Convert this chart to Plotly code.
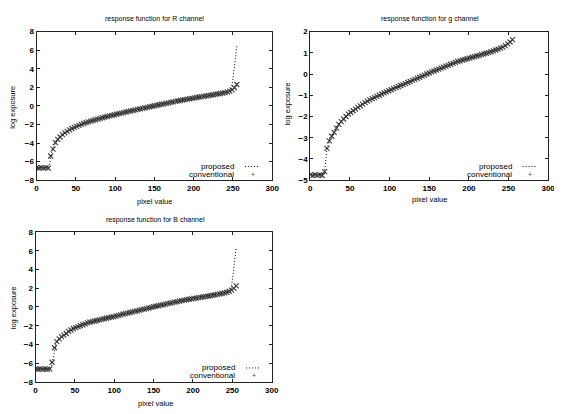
import plotly.graph_objects as go

# ---------------- data ----------------
pixel = [0, 3, 6, 9, 12, 15, 18, 21, 24, 27, 30, 33, 36, 39, 42, 45, 48, 51, 54, 57,
         60, 63, 66, 69, 72, 75, 78, 81, 84, 87, 90, 93, 96, 99, 102, 105, 108, 111, 114, 117,
         120, 123, 126, 129, 132, 135, 138, 141, 144, 147, 150, 153, 156, 159, 162, 165, 168, 171, 174, 177,
         180, 183, 186, 189, 192, 195, 198, 201, 204, 207, 210, 213, 216, 219, 222, 225, 228, 231, 234, 237,
         240, 243, 246, 249, 252, 255]

r_conventional = [-6.65, -6.7, -6.65, -6.7, -6.65, -6.7, -5.4, -4.65, -3.95, -3.6, -3.35, -3.1, -2.9, -2.74, -2.58, -2.44, -2.32, -2.21, -2.1, -2.0,
                  -1.9, -1.81, -1.72, -1.64, -1.56, -1.49, -1.42, -1.35, -1.28, -1.21, -1.14, -1.08, -1.02, -0.96, -0.9, -0.84, -0.78, -0.72, -0.66, -0.6,
                  -0.55, -0.49, -0.43, -0.38, -0.32, -0.27, -0.21, -0.16, -0.1, -0.05, 0.01, 0.06, 0.12, 0.17, 0.22, 0.27, 0.33, 0.38, 0.43, 0.48,
                  0.53, 0.58, 0.63, 0.68, 0.72, 0.77, 0.81, 0.86, 0.9, 0.95, 0.99, 1.03, 1.08, 1.12, 1.16, 1.2, 1.25, 1.29, 1.33, 1.38,
                  1.43, 1.5, 1.58, 1.72, 1.95, 2.3]

g_conventional = [-4.75, -4.78, -4.74, -4.77, -4.75, -4.78, -4.6, -3.5, -3.15, -2.93, -2.75, -2.55, -2.37, -2.24, -2.12, -2.0, -1.89, -1.81, -1.73, -1.65,
                  -1.57, -1.5, -1.42, -1.35, -1.28, -1.22, -1.16, -1.11, -1.05, -1.0, -0.94, -0.89, -0.84, -0.79, -0.74, -0.69, -0.64, -0.59, -0.54, -0.5,
                  -0.45, -0.4, -0.35, -0.3, -0.25, -0.2, -0.15, -0.1, -0.05, 0.0, 0.05, 0.1, 0.14, 0.19, 0.23, 0.28, 0.32, 0.37, 0.41, 0.46,
                  0.5, 0.55, 0.59, 0.62, 0.66, 0.69, 0.72, 0.75, 0.79, 0.82, 0.85, 0.88, 0.92, 0.95, 0.98, 1.01, 1.05, 1.09, 1.13, 1.17,
                  1.22, 1.27, 1.34, 1.42, 1.51, 1.62]

b_conventional = [-6.6, -6.65, -6.6, -6.65, -6.6, -6.65, -6.6, -5.9, -4.35, -3.7, -3.4, -3.17, -3.0, -2.83, -2.6, -2.46, -2.3, -2.2, -2.1, -2.0,
                  -1.9, -1.81, -1.7, -1.62, -1.56, -1.5, -1.44, -1.38, -1.32, -1.26, -1.2, -1.14, -1.09, -1.04, -0.97, -0.9, -0.84, -0.77, -0.71, -0.65,
                  -0.59, -0.53, -0.47, -0.41, -0.35, -0.29, -0.23, -0.17, -0.11, -0.05, 0.02, 0.08, 0.13, 0.19, 0.24, 0.3, 0.35, 0.41, 0.46, 0.52,
                  0.57, 0.63, 0.68, 0.73, 0.77, 0.82, 0.86, 0.91, 0.95, 0.99, 1.03, 1.08, 1.12, 1.16, 1.2, 1.25, 1.29, 1.34, 1.39, 1.44,
                  1.5, 1.57, 1.68, 1.8, 1.98, 2.25]

r_prop_pixel = [0, 6, 12, 16, 17, 18, 19, 20, 22, 24,
                30, 36, 42, 48, 54, 60, 66, 72, 78, 84, 90, 96, 102, 108, 114, 120, 126, 132, 138, 144,
                150, 156, 162, 168, 174, 180, 186, 192, 198, 204, 210, 216, 222, 228, 234, 240,
                244, 246, 247, 248, 249, 250, 251, 252, 253, 254, 255]
r_proposed = [-6.65, -6.65, -6.65, -6.6, -6.0, -5.4, -5.05, -4.85, -4.45, -3.95,
              -3.35, -2.9, -2.58, -2.32, -2.1, -1.9, -1.72, -1.56, -1.42, -1.28, -1.14, -1.02, -0.9, -0.78, -0.66, -0.55, -0.43, -0.32, -0.21, -0.1,
              0.01, 0.12, 0.22, 0.33, 0.43, 0.53, 0.63, 0.72, 0.81, 0.9, 0.99, 1.08, 1.16, 1.25, 1.33, 1.43,
              1.52, 1.6, 1.7, 1.9, 2.3, 2.9, 3.6, 4.3, 5.0, 5.7, 6.4]

g_prop_pixel = [0, 6, 12, 17, 18, 19, 20, 21, 23, 25,
                30, 36, 42, 48, 54, 60, 66, 72, 78, 84, 90, 96, 102, 108, 114, 120, 126, 132, 138, 144,
                150, 156, 162, 168, 174, 180, 186, 192, 198, 204, 210, 216, 222, 228, 234, 240,
                244, 246, 248, 250, 252, 254, 255]
g_proposed = [-4.75, -4.75, -4.75, -4.72, -4.6, -4.2, -3.8, -3.5, -3.3, -3.05,
              -2.75, -2.37, -2.12, -1.89, -1.73, -1.57, -1.42, -1.28, -1.16, -1.05, -0.94, -0.84, -0.74, -0.64, -0.54, -0.45, -0.35, -0.25, -0.15, -0.05,
              0.05, 0.14, 0.23, 0.32, 0.41, 0.5, 0.59, 0.66, 0.72, 0.79, 0.85, 0.92, 0.98, 1.05, 1.13, 1.22,
              1.29, 1.34, 1.39, 1.45, 1.51, 1.58, 1.62]

b_prop_pixel = [0, 6, 12, 18, 20, 21, 22, 23, 24, 26,
                30, 36, 42, 48, 54, 60, 66, 72, 78, 84, 90, 96, 102, 108, 114, 120, 126, 132, 138, 144,
                150, 156, 162, 168, 174, 180, 186, 192, 198, 204, 210, 216, 222, 228, 234, 240,
                244, 246, 248, 249, 250, 251, 252, 253, 254, 255]
b_proposed = [-6.6, -6.6, -6.6, -6.6, -6.5, -6.0, -5.4, -4.9, -4.35, -3.83,
              -3.4, -3.0, -2.6, -2.3, -2.1, -1.9, -1.7, -1.56, -1.44, -1.32, -1.2, -1.09, -0.97, -0.84, -0.71, -0.59, -0.47, -0.35, -0.23, -0.11,
              0.02, 0.13, 0.24, 0.35, 0.46, 0.57, 0.68, 0.77, 0.86, 0.95, 1.03, 1.12, 1.2, 1.29, 1.39, 1.5,
              1.6, 1.68, 1.8, 2.2, 2.9, 3.6, 4.3, 5.1, 5.8, 6.4]

titles = ["response function for R channel", "response function for g channel", "response function for B channel"]
legend_labels = ["proposed", "conventional"]
x_label = "pixel value"
y_label = "log exposure"

# ---------------- figure ----------------
OFF = 8                      # page body margin of the html page
W, H = 562 - OFF, 414 - OFF  # figure size so the page fits the window
INK = "#000000"
FONT = "Liberation Sans, Arial, sans-serif"

def px(x):
    return (x - OFF) / W

def py(y):
    return 1 - (y - OFF) / H

panels = [
    dict(conv=r_conventional, ppx=r_prop_pixel, prop=r_proposed, xdom=[px(35), px(274.5)], ydom=[py(180), py(28)],
         yr=[-8, 8], dt=2),
    dict(conv=g_conventional, ppx=g_prop_pixel, prop=g_proposed, xdom=[px(313.3), px(555)], ydom=[py(180), py(28)],
         yr=[-5, 2], dt=1),
    dict(conv=b_conventional, ppx=b_prop_pixel, prop=b_proposed, xdom=[px(34), px(274)], ydom=[py(386.3), py(233)],
         yr=[-8, 8], dt=2),
]

fig = go.Figure()
layout = dict(
    width=W, height=H, margin=dict(l=0, r=0, t=0, b=0),
    paper_bgcolor="white", plot_bgcolor="white", showlegend=False,
    font=dict(family=FONT, size=8, color=INK),
)

for i, p in enumerate(panels):
    n = "" if i == 0 else str(i + 1)
    xa, ya = "x" + n, "y" + n
    fig.add_trace(go.Scatter(x=pixel, y=p["conv"], mode="markers", name=legend_labels[1],
                             marker=dict(symbol="x-thin", size=5, line=dict(width=1.2, color="#444444")),
                             xaxis=xa, yaxis=ya))
    fig.add_trace(go.Scatter(x=p["ppx"], y=p["prop"], mode="lines", name=legend_labels[0],
                             line=dict(color=INK, width=1, dash="1px,2px"),
                             xaxis=xa, yaxis=ya))
    common = dict(showline=True, linecolor="#222222", linewidth=1.2, mirror="ticks", ticks="inside",
                  ticklen=3, tickcolor="#222222", showgrid=False, zeroline=False,
                  tickfont=dict(family=FONT, size=8, color=INK, weight="bold"))
    layout["xaxis" + n] = dict(domain=p["xdom"], range=[0, 300], dtick=50, tick0=0,
                               anchor=ya, **common)
    layout["yaxis" + n] = dict(domain=p["ydom"], range=p["yr"], dtick=p["dt"], tick0=0,
                               anchor=xa, **common)

fig.update_layout(**layout)

# titles, axis labels and key (annotations)
title_pos = [(155, 15), (435, 15), (156, 221)]
xlab_pos = [(155, 202), (434, 200), (156, 408)]
ylab_pos = [(11, 105), (290, 102), (11, 310)]
key_pos = [(238, 166), (520, 166), (239, 372)]

for i in range(3):
    tx, ty = title_pos[i]
    fig.add_annotation(x=px(tx), y=py(ty), xref="paper", yref="paper", text=titles[i],
                       showarrow=False, font=dict(size=7, color=INK), xanchor="center", yanchor="middle")
    lx, ly = xlab_pos[i]
    fig.add_annotation(x=px(lx), y=py(ly), xref="paper", yref="paper", text=x_label,
                       showarrow=False, font=dict(size=7.5, color=INK), xanchor="center", yanchor="middle")
    yx, yy = ylab_pos[i]
    fig.add_annotation(x=px(yx), y=py(yy), xref="paper", yref="paper", text=y_label, textangle=-90,
                       showarrow=False, font=dict(size=7.5, color=INK), xanchor="center", yanchor="middle")
    kx, ky = key_pos[i]
    fig.add_annotation(x=px(kx), y=py(ky), xref="paper", yref="paper", text=legend_labels[0],
                       showarrow=False, font=dict(size=8, color=INK), xanchor="right", yanchor="middle")
    fig.add_annotation(x=px(kx), y=py(ky + 8), xref="paper", yref="paper", text=legend_labels[1],
                       showarrow=False, font=dict(size=8, color=INK), xanchor="right", yanchor="middle")
    # key samples
    fig.add_shape(type="line", xref="paper", yref="paper", x0=px(kx + 9), x1=px(kx + 24), y0=py(ky), y1=py(ky),
                  line=dict(color=INK, width=1, dash="1px,2px"))
    fig.add_annotation(x=px(kx + 17), y=py(ky + 8), xref="paper", yref="paper", text="+",
                       showarrow=False, font=dict(size=7, color="#444444"), xanchor="center", yanchor="middle")

fig.write_html("out.html")
